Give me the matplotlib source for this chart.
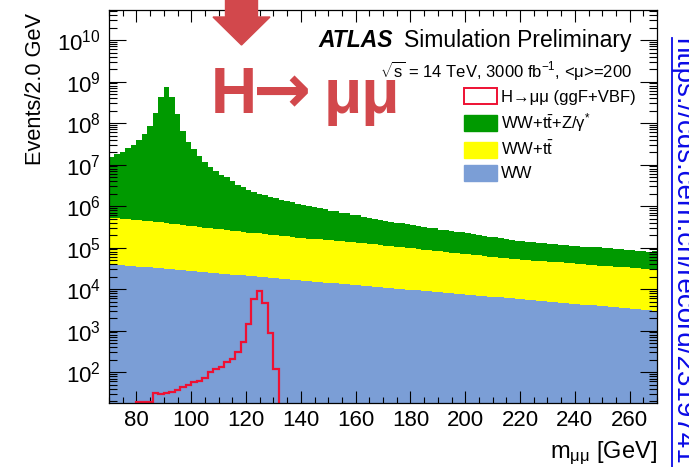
import numpy as np
import matplotlib
matplotlib.use("Agg")
import matplotlib.pyplot as plt
from matplotlib.patches import Patch, FancyArrow
from matplotlib.lines import Line2D
from matplotlib.ticker import LogLocator, NullFormatter, MultipleLocator

plt.rcParams['font.family'] = ['Liberation Sans', 'DejaVu Sans']
plt.rcParams['mathtext.fontset'] = 'custom'
plt.rcParams['mathtext.rm'] = 'Liberation Sans'
plt.rcParams['mathtext.it'] = 'Liberation Sans:italic'
plt.rcParams['mathtext.bf'] = 'Liberation Sans:bold'
plt.rcParams['mathtext.default'] = 'regular'

# 2 GeV bins in m_mumu
mass_edges = np.arange(70, 271, 2)

# cumulative stacks (events / 2 GeV)
ww_tt_z = [
    1.55e7, 1.82e7, 2.04e7, 2.45e7, 3.02e7, 3.98e7, 5.50e7, 8.71e7, 1.74e8, 4.17e8,
    7.24e8, 4.17e8, 1.66e8, 6.61e7, 3.55e7, 2.34e7, 1.62e7, 1.18e7, 8.91e6, 6.92e6,
    5.75e6, 4.90e6, 3.98e6, 3.31e6, 2.82e6, 2.45e6, 2.19e6, 2.00e6, 1.82e6, 1.66e6,
    1.55e6, 1.41e6, 1.33e6, 1.22e6, 1.13e6, 1.07e6, 1.00e6, 9.40e5, 8.85e5, 8.40e5,
    7.70e5, 7.45e5, 6.90e5, 6.65e5, 6.10e5, 5.95e5, 5.45e5, 5.30e5, 4.85e5, 4.72e5,
    4.42e5, 4.20e5, 3.95e5, 3.92e5, 3.60e5, 3.50e5, 3.28e5, 3.19e5, 2.98e5, 2.91e5,
    2.72e5, 2.66e5, 2.48e5, 2.43e5, 2.32e5, 2.21e5, 2.07e5, 2.06e5, 1.89e5, 1.84e5,
    1.78e5, 1.68e5, 1.57e5, 1.56e5, 1.47e5, 1.46e5, 1.40e5, 1.36e5, 1.31e5, 1.30e5,
    1.25e5, 1.24e5, 1.17e5, 1.16e5, 1.11e5, 1.11e5, 1.06e5, 1.06e5, 1.01e5, 1.01e5,
    9.60e4, 9.70e4, 9.20e4, 9.20e4, 8.80e4, 8.80e4, 8.40e4, 8.40e4, 8.00e4, 8.10e4,
]
ww_tt = [
    5.25e5, 5.13e5, 5.01e5, 4.79e5, 4.68e5, 4.57e5, 4.47e5, 4.27e5, 4.17e5, 4.07e5,
    3.89e5, 3.80e5, 3.63e5, 3.55e5, 3.39e5, 3.31e5, 3.16e5, 3.02e5, 2.95e5, 2.82e5,
    2.75e5, 2.63e5, 2.51e5, 2.45e5, 2.40e5, 2.29e5, 2.24e5, 2.19e5, 2.09e5, 2.04e5,
    2.00e5, 1.91e5, 1.86e5, 1.82e5, 1.74e5, 1.72e5, 1.64e5, 1.62e5, 1.58e5, 1.55e5,
    1.51e5, 1.45e5, 1.42e5, 1.37e5, 1.35e5, 1.32e5, 1.26e5, 1.24e5, 1.19e5, 1.18e5,
    1.12e5, 1.10e5, 1.05e5, 1.03e5, 9.90e4, 9.60e4, 9.30e4, 8.95e4, 8.70e4, 8.35e4,
    8.13e4, 7.94e4, 7.55e4, 7.45e4, 7.05e4, 6.95e4, 6.58e4, 6.48e4, 6.28e4, 6.05e4,
    5.89e4, 5.60e4, 5.52e4, 5.35e4, 5.27e4, 5.10e4, 5.03e4, 4.88e4, 4.81e4, 4.66e4,
    4.57e4, 4.45e4, 4.39e4, 4.25e4, 4.19e4, 4.05e4, 3.99e4, 3.88e4, 3.81e4, 3.70e4,
    3.64e4, 3.54e4, 3.48e4, 3.38e4, 3.32e4, 3.22e4, 3.17e4, 3.08e4, 3.03e4, 2.94e4,
]
ww = [
    3.98e4, 3.88e4, 3.78e4, 3.68e4, 3.59e4, 3.50e4, 3.40e4, 3.32e4, 3.24e4, 3.15e4,
    3.07e4, 2.99e4, 2.91e4, 2.84e4, 2.77e4, 2.70e4, 2.62e4, 2.56e4, 2.49e4, 2.43e4,
    2.37e4, 2.31e4, 2.24e4, 2.19e4, 2.13e4, 2.08e4, 2.02e4, 1.97e4, 1.92e4, 1.87e4,
    1.82e4, 1.78e4, 1.73e4, 1.69e4, 1.64e4, 1.60e4, 1.56e4, 1.52e4, 1.48e4, 1.44e4,
    1.41e4, 1.37e4, 1.33e4, 1.30e4, 1.27e4, 1.24e4, 1.20e4, 1.17e4, 1.14e4, 1.11e4,
    1.08e4, 1.06e4, 1.03e4, 1.00e4, 9.77e3, 9.52e3, 9.27e3, 9.04e3, 8.81e3, 8.57e3,
    8.36e3, 8.15e3, 7.93e3, 7.73e3, 7.53e3, 7.35e3, 7.14e3, 6.97e3, 6.79e3, 6.61e3,
    6.44e3, 6.28e3, 6.11e3, 5.96e3, 5.81e3, 5.66e3, 5.51e3, 5.37e3, 5.24e3, 5.09e3,
    4.97e3, 4.84e3, 4.71e3, 4.59e3, 4.48e3, 4.37e3, 4.25e3, 4.14e3, 4.04e3, 3.93e3,
    3.83e3, 3.73e3, 3.63e3, 3.54e3, 3.45e3, 3.37e3, 3.27e3, 3.19e3, 3.11e3, 3.03e3,
]
# H -> mumu signal (ggF + VBF)
h_mumu = [
    0, 0, 0, 0, 0, 19.5, 19.5, 19.5, 32, 29,
    31, 33, 37, 43, 50, 57, 62, 71, 102, 116,
    130, 172, 208, 300, 537, 1480, 5740, 9100, 4600, 855,
    118, 0, 0, 0, 0, 0, 0, 0, 0, 0,
    0, 0, 0, 0, 0, 0, 0, 0, 0, 0,
    0, 0, 0, 0, 0, 0, 0, 0, 0, 0,
    0, 0, 0, 0, 0, 0, 0, 0, 0, 0,
    0, 0, 0, 0, 0, 0, 0, 0, 0, 0,
    0, 0, 0, 0, 0, 0, 0, 0, 0, 0,
    0, 0, 0, 0, 0, 0, 0, 0, 0, 0,
]

legend_labels = ['H→μμ (ggF+VBF)',
                 r'WW+t$\bar{\rm t}$+Z/γ$^{*}$',
                 r'WW+t$\bar{\rm t}$',
                 'WW']

C_GREEN = '#009a00'
C_YELLOW = '#ffff00'
C_BLUE = '#7b9ed6'
C_SIG = '#ee1133'
C_RED = '#d2484c'
C_LINK = '#0a0ae6'

W, H = 689, 467
fig = plt.figure(figsize=(W / 100, H / 100), dpi=100)


def fxy(x, y):
    """pixel position (from top-left) -> figure fraction"""
    return x / W, 1 - y / H


ax_l, ax_r, ax_t, ax_b = 109, 657, 10, 403
ax = fig.add_axes([ax_l / W, 1 - ax_b / H, (ax_r - ax_l) / W, (ax_b - ax_t) / H])

ax.stairs(ww_tt_z, mass_edges, fill=True, color=C_GREEN, baseline=1, zorder=1)
ax.stairs(ww_tt, mass_edges, fill=True, color=C_YELLOW, baseline=1, zorder=1.1)
ax.stairs(ww, mass_edges, fill=True, color=C_BLUE, baseline=1, zorder=1.2)
ax.stairs(h_mumu, mass_edges, color=C_SIG, lw=1.6, baseline=None, zorder=2)

ax.set_yscale('log')
ax.set_xlim(70, 270)
ax.set_ylim(18, 5.3e10)

ax.xaxis.set_major_locator(MultipleLocator(20))
ax.xaxis.set_minor_locator(MultipleLocator(5))
ax.yaxis.set_major_locator(LogLocator(base=10, numticks=20))
ax.yaxis.set_minor_locator(LogLocator(base=10, subs=np.arange(2, 10), numticks=200))
ax.yaxis.set_minor_formatter(NullFormatter())

ax.tick_params(axis='both', which='both', direction='in', top=True, right=True,
               width=0.8, labelsize=16, colors='black')
ax.tick_params(axis='y', which='major', length=12, pad=6)
ax.tick_params(axis='y', which='minor', length=6)
ax.tick_params(axis='x', which='major', length=8.5, pad=5)
ax.tick_params(axis='x', which='minor', length=4)
for sp in ax.spines.values():
    sp.set_linewidth(0.9)

ax.set_xlabel(r'm$_{\mu\mu}$ [GeV]', fontsize=17, loc='right')
ax.xaxis.set_label_coords(1.0, -0.093)
ax.set_ylabel('Events/2.0 GeV', fontsize=15.7, loc='top')
ax.yaxis.set_label_coords(-0.115, 0.992)

# experiment label
fig.text(*fxy(318, 47), 'ATLAS', fontsize=16.5, fontweight='bold', fontstyle='italic',
         ha='left', va='baseline')
fig.text(*fxy(632, 47), 'Simulation Preliminary', fontsize=16.5, ha='right', va='baseline')
fig.text(*fxy(632, 77), r'$\sqrt{s}$ = 14 TeV, 3000 fb$^{-1}$, <μ>=200', fontsize=12,
         ha='right', va='baseline')

handles = [Patch(facecolor='white', edgecolor=C_SIG, linewidth=1.4),
           Patch(facecolor=C_GREEN, edgecolor=C_GREEN),
           Patch(facecolor=C_YELLOW, edgecolor=C_YELLOW),
           Patch(facecolor=C_BLUE, edgecolor=C_BLUE)]
fig.legend(handles, legend_labels, loc='upper left', bbox_to_anchor=fxy(464, 88),
           frameon=False, fontsize=12, handlelength=1.95, handleheight=1.1,
           handletextpad=0.25, labelspacing=0.38, borderpad=0, borderaxespad=0)

# highlighted channel: arrow and big label
arrow = FancyArrow(2.415, 4.75, 0, -0.53, width=0.32, head_width=0.57, head_length=0.28,
                   length_includes_head=True, color=C_RED, transform=fig.dpi_scale_trans,
                   zorder=10, clip_on=False)
fig.add_artist(arrow)
fig.text(*fxy(211, 113), 'H', fontsize=46, fontweight='bold', color=C_RED,
         ha='left', va='baseline')
fig.text(*fxy(253, 113), '→', fontsize=50, fontweight='bold', color=C_RED,
         family=['DejaVu Sans'], ha='left', va='baseline')
fig.text(*fxy(324, 113), 'μμ', fontsize=45, fontweight='bold', color=C_RED,
         ha='left', va='baseline')

# record link along the right edge
fig.text(*fxy(675, 38), 'https://cds.cern.ch/record/2319741', fontsize=20, color=C_LINK,
         rotation=-90, rotation_mode='anchor', ha='left', va='baseline')
fig.add_artist(Line2D([672 / W, 672 / W], [1 - 38 / H, 0], transform=fig.transFigure,
                      color=C_LINK, lw=1.3))

fig.savefig('out.png', dpi=100)
